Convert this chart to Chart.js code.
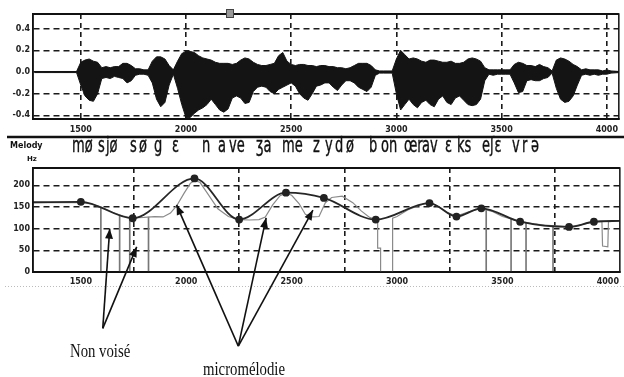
<!DOCTYPE html>
<html>
<head>
<meta charset="utf-8">
<script src="https://cdn.jsdelivr.net/npm/chart.js@4.4.0/dist/chart.umd.min.js"></script>
<style>
body{margin:0;background:#fff;width:624px;height:377px;overflow:hidden;position:relative;font-family:'DejaVu Sans'}
#wave{position:absolute;left:0;top:0}
#melody{position:absolute;left:0;top:140px}
.lbl{position:absolute;white-space:pre;color:#111;font-weight:bold}
.ph{position:absolute;top:135px;font:21px/20px 'DejaVu Sans';transform:scaleX(0.62);transform-origin:0 0;color:#111;white-space:pre;-webkit-text-stroke:0.4px #111}
.note{position:absolute;font:18px/18px 'Liberation Serif';transform:scaleX(0.82);transform-origin:0 0;color:#111;white-space:pre}
</style>
</head>
<body>
<canvas id="wave" width="624" height="140"></canvas>
<canvas id="melody" width="624" height="237"></canvas>

<div class="lbl" style="left:10px;top:141px;font-size:8px">Melody</div>
<div class="lbl" style="left:27px;top:155px;font-size:7px">Hz</div>

<span class="ph" style="left:72px">mø</span>
<span class="ph" style="left:98px">s</span>
<span class="ph" style="left:106px">jø</span>
<span class="ph" style="left:130px">s</span>
<span class="ph" style="left:139px">ø</span>
<span class="ph" style="left:154px">g</span>
<span class="ph" style="left:172px">ɛ</span>
<span class="ph" style="left:202px">n</span>
<span class="ph" style="left:218px">a</span>
<span class="ph" style="left:229px">ve</span>
<span class="ph" style="left:256px">ʒa</span>
<span class="ph" style="left:282px">me</span>
<span class="ph" style="left:313px">z</span>
<span class="ph" style="left:325px">y</span>
<span class="ph" style="left:335px">d</span>
<span class="ph" style="left:346px">ø</span>
<span class="ph" style="left:369px">b</span>
<span class="ph" style="left:381px">on</span>
<span class="ph" style="left:404px">œr</span>
<span class="ph" style="left:422px">av</span>
<span class="ph" style="left:445px">ɛ</span>
<span class="ph" style="left:457px">ks</span>
<span class="ph" style="left:482px">eʃɛ</span>
<span class="ph" style="left:512px">v</span>
<span class="ph" style="left:522px">r</span>
<span class="ph" style="left:531px">ə</span>

<div class="note" style="left:70px;top:342px">Non voisé</div>
<div class="note" style="left:203px;top:360px">micromélodie</div>

<script>
// time axis (ms)
const xTicks = [1500, 2000, 2500, 3000, 3500, 4000];
const waveTicks = [-0.4, -0.2, 0, 0.2, 0.4];
const hzTicks = [0, 50, 100, 150, 200];

// waveform envelope
const waveTimes = [1280,1480,1500,1520,1540,1560,1580,1600,1620,1640,1660,1680,1700,1720,1740,1760,1780,1800,1820,1840,
  1860,1880,1900,1920,1940,1960,1980,2000,2020,2040,2060,2080,2100,2120,2140,2160,2180,2200,2220,2240,
  2260,2280,2300,2320,2340,2360,2380,2400,2420,2440,2460,2480,2500,2520,2540,2560,2580,2600,2620,2640,
  2660,2680,2700,2720,2740,2760,2780,2800,2820,2840,2860,2880,2900,2920,2940,2960,2980,3000,3020,3040,
  3060,3080,3100,3120,3140,3160,3180,3200,3220,3240,3260,3280,3300,3320,3340,3360,3380,3400,3420,3440,
  3460,3480,3500,3520,3540,3560,3580,3600,3620,3640,3660,3680,3700,3720,3740,3760,3780,3800,3820,3840,
  3860,3880,3900,3920,3940,3960,3980,4000,4020,4060];
const waveUpper = [0.005,0.005,0.09,0.11,0.12,0.10,0.09,0.04,0.05,0.04,0.05,0.05,0.08,0.08,0.06,0.03,0.03,0.02,0.02,0.10,
  0.14,0.14,0.12,0.06,0.02,0.10,0.17,0.19,0.19,0.18,0.15,0.13,0.12,0.11,0.09,0.08,0.08,0.08,0.07,0.08,
  0.11,0.13,0.12,0.09,0.07,0.06,0.06,0.07,0.08,0.15,0.18,0.10,0.07,0.06,0.07,0.07,0.06,0.06,0.05,0.06,
  0.06,0.05,0.05,0.04,0.04,0.03,0.04,0.06,0.08,0.08,0.08,0.06,0.02,0.01,0.01,0.01,0.01,0.12,0.20,0.16,
  0.12,0.13,0.12,0.10,0.09,0.11,0.11,0.10,0.09,0.09,0.10,0.08,0.08,0.09,0.12,0.13,0.12,0.10,0.04,0.02,
  0.02,0.02,0.02,0.02,0.02,0.07,0.09,0.08,0.06,0.06,0.05,0.07,0.05,0.04,0.01,0.11,0.13,0.12,0.10,0.07,
  0.05,0.02,0.03,0.02,0.02,0.02,0.01,0.02,0.01,0.005];
const waveLower = [-0.005,-0.005,-0.12,-0.22,-0.26,-0.27,-0.20,-0.06,-0.05,-0.06,-0.04,-0.05,-0.06,-0.10,-0.08,-0.03,-0.02,-0.02,-0.03,-0.10,
  -0.25,-0.32,-0.28,-0.12,-0.02,-0.15,-0.30,-0.42,-0.42,-0.38,-0.35,-0.33,-0.30,-0.25,-0.30,-0.35,-0.37,-0.34,-0.24,-0.22,
  -0.24,-0.29,-0.28,-0.18,-0.14,-0.13,-0.14,-0.18,-0.20,-0.16,-0.14,-0.12,-0.10,-0.13,-0.20,-0.24,-0.26,-0.20,-0.13,-0.12,
  -0.10,-0.10,-0.14,-0.17,-0.12,-0.08,-0.08,-0.10,-0.14,-0.16,-0.18,-0.14,-0.03,-0.01,-0.01,-0.01,-0.01,-0.20,-0.35,-0.30,
  -0.25,-0.30,-0.33,-0.28,-0.26,-0.30,-0.32,-0.25,-0.22,-0.28,-0.30,-0.24,-0.22,-0.26,-0.30,-0.31,-0.30,-0.25,-0.08,-0.02,
  -0.03,-0.02,-0.02,-0.02,-0.02,-0.10,-0.19,-0.18,-0.08,-0.07,-0.08,-0.08,-0.06,-0.05,-0.01,-0.15,-0.25,-0.28,-0.27,-0.22,
  -0.12,-0.03,-0.02,-0.03,-0.02,-0.03,-0.02,-0.02,-0.01,-0.005];

// stylised melody (target points)
const contourTimes = [1273, 1500, 1746, 2039, 2251, 2473, 2653, 2899, 3154, 3282, 3400, 3584, 3816, 3934, 4057];
const contourHz    = [161, 162, 124, 216, 121, 183, 171, 121, 159, 128, 147, 116, 104, 116, 118];

// raw F0 track
const rawTimes = [1273,1500,1550,1600,1650,1700,1746,1800,1850,1890,1925,1955,1990,2020,2039,2065,2100,2150,2200,2251,
  2300,2345,2375,2410,2445,2473,2500,2535,2565,2600,2630,2660,2690,2740,2790,2830,2870,2899,2908,2908,
  2922,2922,2979,2979,3000,3050,3100,3154,3200,3240,3282,3340,3400,3450,3500,3584,3650,3700,3816,3880,
  3934,3965,3972,3975,4000,4003,4057];
const rawHz = [160,160,157,149,138,129,125,126,128,127,136,153,182,205,211,207,182,146,128,121,
  120,121,127,155,176,182,177,158,133,127,128,160,172,175,160,141,126,121,121,55,
  55,0,0,124,128,143,153,161,150,137,129,139,147,140,128,117,111,108,104,110,
  116,117,116,60,58,116,118];

// unvoiced drops
const unvoicedTimes = [1595, 1684, 1732, 1821, 3423, 3541, 3612, 3740];
const unvoicedHz    = [149, 131, 126, 127, 143, 124, 114, 106];

const tickFont = {family: 'DejaVu Sans', size: 8, weight: 'bold'};

function timeAxis(h, pad) {
    return {
        type: 'linear', min: 1273, max: 4057, offset: false,
        afterBuildTicks: s => { s.ticks = xTicks.map(v => ({value: v})); },
        afterFit: s => { s.height = h; },
        grid: {color: '#1a1a1a', lineWidth: 1.6, drawTicks: false},
        border: {display: true, color: '#111', width: 2, dash: [5, 4]},
        ticks: {padding: pad, color: '#222', font: tickFont, maxRotation: 0, autoSkip: false, callback: v => String(v)}
    };
}

function valueAxis(min, max, ticks, fmt) {
    return {
        type: 'linear', min: min, max: max,
        afterBuildTicks: s => { s.ticks = ticks.map(v => ({value: v})); },
        afterFit: s => { s.width = 33; },
        grid: {color: '#1a1a1a', lineWidth: 1.6, drawTicks: false},
        border: {display: true, color: '#111', width: 1.5, dash: [6, 4]},
        ticks: {padding: 3, color: '#222', font: tickFont, callback: fmt}
    };
}

function frame(chart) {
    const {ctx, chartArea: a} = chart;
    ctx.save();
    ctx.strokeStyle = '#111';
    ctx.lineWidth = 1.5;
    ctx.strokeRect(a.left, a.top, a.right - a.left, a.bottom - a.top);
    ctx.lineWidth = 2;
    ctx.beginPath();
    ctx.moveTo(a.left, a.top);
    ctx.lineTo(a.right, a.top);
    ctx.stroke();
    ctx.restore();
}

const waveDecor = {
    id: 'waveDecor',
    afterDraw(chart) {
        const ctx = chart.ctx;
        frame(chart);
        ctx.save();
        // little cursor box on the top edge
        ctx.fillStyle = '#999';
        ctx.strokeStyle = '#444';
        ctx.lineWidth = 1;
        ctx.fillRect(226, 9, 8, 9);
        ctx.strokeRect(226.5, 9.5, 7, 8);
        // separator between the panels
        ctx.strokeStyle = '#111';
        ctx.lineWidth = 2.5;
        ctx.beginPath();
        ctx.moveTo(7, 137);
        ctx.lineTo(624, 137);
        ctx.stroke();
        ctx.restore();
    }
};

// annotation arrows: [fromX, fromY, toX, toY] in axis units
const arrows = [
    [1604, -130, 1637, 100], [1604, -130, 1765, 58],
    [2247, -171, 1954, 155], [2247, -171, 2379, 125], [2247, -171, 2601, 143]
];

const melodyDecor = {
    id: 'melodyDecor',
    afterDraw(chart) {
        const ctx = chart.ctx;
        const x = chart.scales.x, y = chart.scales.y;
        frame(chart);
        ctx.save();
        ctx.strokeStyle = '#bbb';
        ctx.lineWidth = 1;
        ctx.setLineDash([1, 2]);
        ctx.beginPath();
        ctx.moveTo(5, 146.5);
        ctx.lineTo(624, 146.5);
        ctx.stroke();
        ctx.setLineDash([]);
        ctx.strokeStyle = '#111';
        ctx.fillStyle = '#111';
        ctx.lineWidth = 1.6;
        arrows.forEach(a => {
            const x0 = x.getPixelForValue(a[0]), y0 = y.getPixelForValue(a[1]);
            const x1 = x.getPixelForValue(a[2]), y1 = y.getPixelForValue(a[3]);
            const ang = Math.atan2(y1 - y0, x1 - x0);
            ctx.beginPath();
            ctx.moveTo(x0, y0);
            ctx.lineTo(x1, y1);
            ctx.stroke();
            ctx.beginPath();
            ctx.moveTo(x1, y1);
            ctx.lineTo(x1 - 10 * Math.cos(ang) + 4 * Math.sin(ang), y1 - 10 * Math.sin(ang) - 4 * Math.cos(ang));
            ctx.lineTo(x1 - 10 * Math.cos(ang) - 4 * Math.sin(ang), y1 - 10 * Math.sin(ang) + 4 * Math.cos(ang));
            ctx.closePath();
            ctx.fill();
        });
        ctx.restore();
    }
};

new Chart(document.getElementById('wave'), {
    type: 'line',
    data: {
        datasets: [{
            data: waveTimes.map((t, i) => ({x: t, y: waveUpper[i]})),
            borderColor: '#141414', borderWidth: 1, backgroundColor: '#141414',
            fill: '+1', pointRadius: 0, tension: 0
        }, {
            data: waveTimes.map((t, i) => ({x: t, y: waveLower[i]})),
            borderColor: '#141414', borderWidth: 1,
            fill: false, pointRadius: 0, tension: 0
        }]
    },
    options: {
        responsive: false, animation: false,
        layout: {padding: {top: 14, right: 2, left: 0, bottom: 0}},
        plugins: {legend: {display: false}, tooltip: {enabled: false}},
        scales: {
            x: timeAxis(21, 6),
            y: valueAxis(-0.433, 0.535, waveTicks, v => v.toFixed(1))
        }
    },
    plugins: [waveDecor]
});

new Chart(document.getElementById('melody'), {
    type: 'line',
    data: {
        datasets: [{
            type: 'bar',
            data: unvoicedTimes.map((t, i) => ({x: t, y: [0, unvoicedHz[i]]})),
            backgroundColor: '#777', barThickness: 1, order: 3
        }, {
            data: rawTimes.map((t, i) => ({x: t, y: rawHz[i]})),
            borderColor: '#8a8a8a', borderWidth: 1.2, pointRadius: 0, tension: 0, fill: false, order: 2
        }, {
            data: contourTimes.map((t, i) => ({x: t, y: contourHz[i]})),
            borderColor: '#262626', borderWidth: 1.8, cubicInterpolationMode: 'monotone', fill: false,
            pointRadius: c => (c.dataIndex === 0 || c.dataIndex === contourTimes.length - 1) ? 0 : 3,
            pointBackgroundColor: '#222', pointBorderColor: '#222', order: 1
        }]
    },
    options: {
        responsive: false, animation: false,
        layout: {padding: {top: 28, right: 2, left: 0, bottom: 0}},
        plugins: {legend: {display: false}, tooltip: {enabled: false}},
        scales: {
            x: timeAxis(105, 5),
            y: valueAxis(0, 240, hzTicks, v => String(v))
        }
    },
    plugins: [melodyDecor]
});
</script>
</body>
</html>
